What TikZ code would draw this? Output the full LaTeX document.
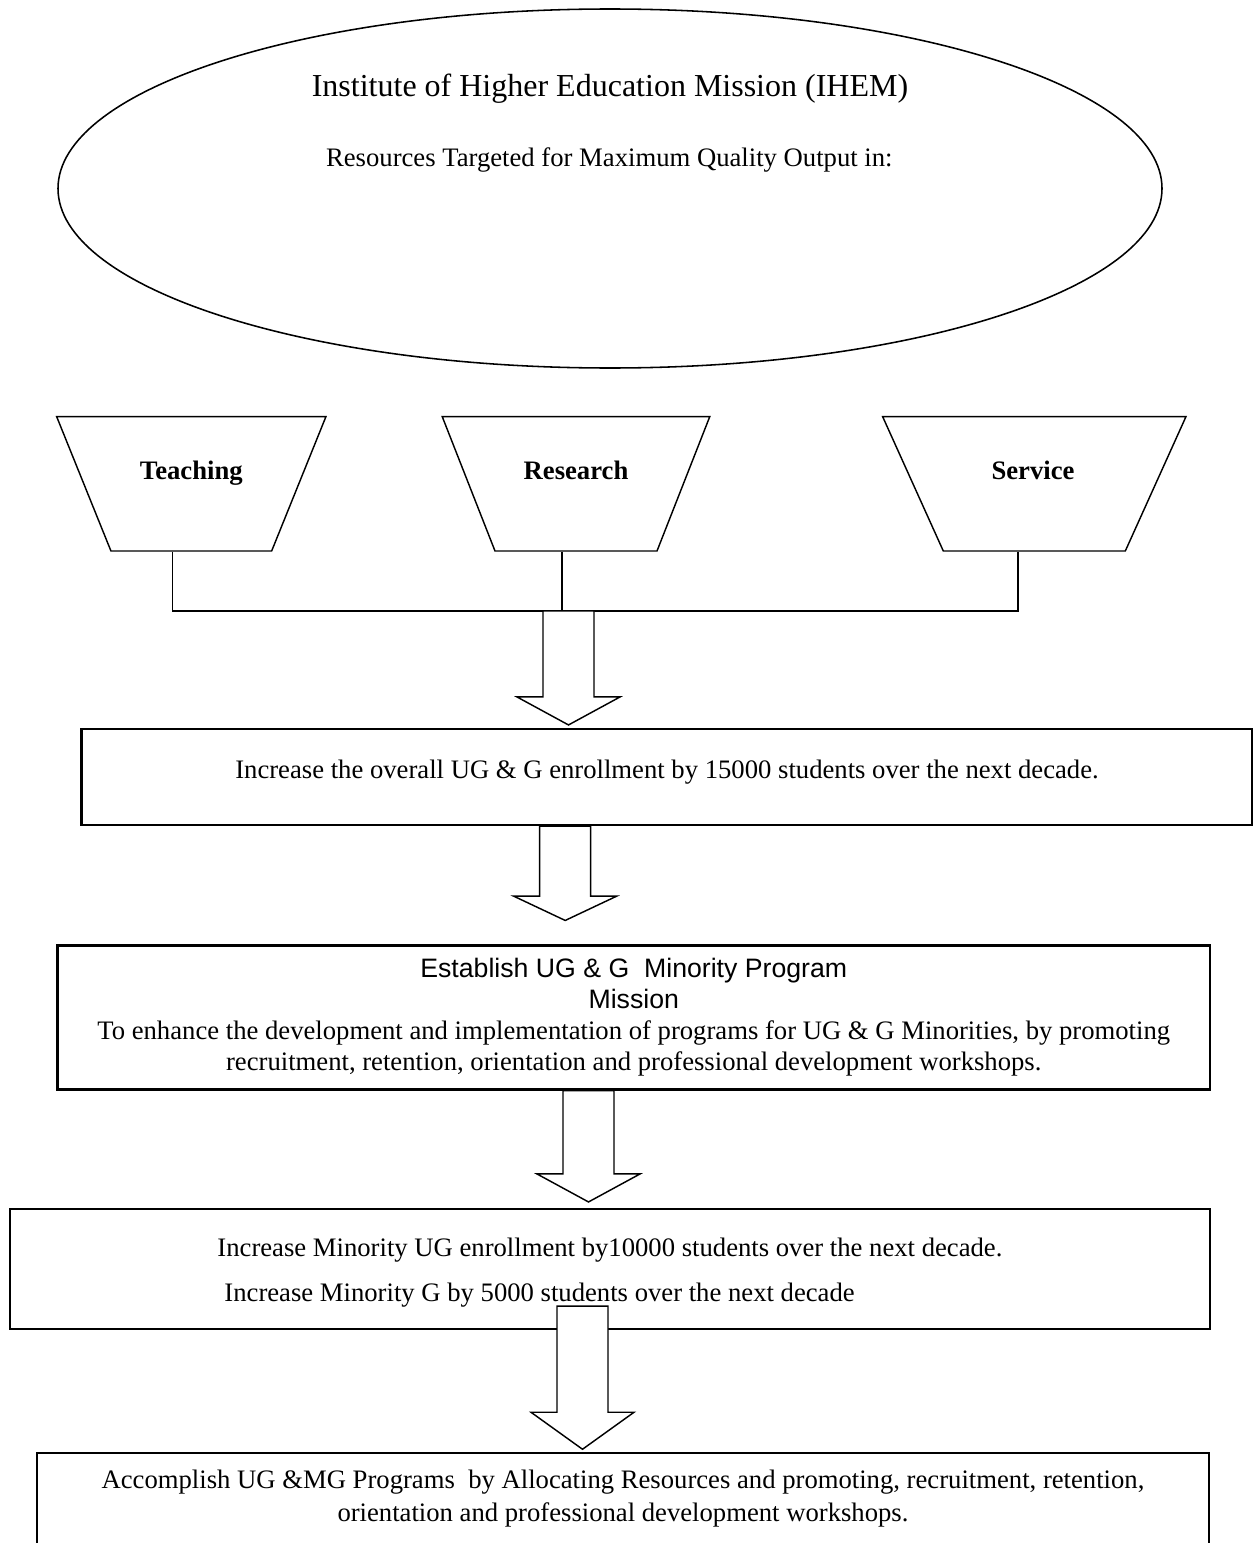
\documentclass[tikz,border=0pt]{standalone}
\usepackage{fontspec}
\setmainfont{Liberation Serif}
\newfontfamily\arialfont{Liberation Sans}
\usetikzlibrary{shapes.geometric,calc}
\newcommand{\pxu}{0.45pt}
% block arrow: top point, tip point, head length
\newcommand{\hollowarrow}[3]{%
  \draw[hollow] let \p1=#1, \p2=#2 in
    (\x1-25.5*\pxu,\y1) -- (\x1-25.5*\pxu,\y2+#3*\pxu) -- (\x1-51.5*\pxu,\y2+#3*\pxu)
    -- (\x1,\y2) -- (\x1+51.5*\pxu,\y2+#3*\pxu) -- (\x1+25.5*\pxu,\y2+#3*\pxu)
    -- (\x1+25.5*\pxu,\y1) -- cycle;}

\begin{document}
\begin{tikzpicture}[x=0.45pt,y=-0.45pt,line join=miter]
    \tikzstyle{mission}=[draw, ellipse, line width=0.7pt, minimum width=1104*\pxu, minimum height=359*\pxu, inner sep=0pt]
    \tikzstyle{funnel}=[draw, trapezium, shape border rotate=180, line width=0.65pt, inner ysep=67.15*\pxu]
    \tikzstyle{goal}=[draw, rectangle, line width=0.95pt, inner sep=0pt, align=center, font=\fontsize{12}{13.95}\selectfont]
    \tikzstyle{txt}=[inner sep=0pt, font=\fontsize{12}{13.95}\selectfont]
    \tikzstyle{head}=[inner sep=0pt, font=\fontsize{12}{13.95}\selectfont\bfseries]
    \tikzstyle{wire}=[line width=0.65pt]
    \tikzstyle{hollow}=[fill=white, line width=0.65pt]

    \useasboundingbox (0,0) rectangle (1253,1543);
    \clip (0,0) rectangle (1253,1543);

    \node[mission] (ihem) at (610,188.5) {};
    \node[txt, font=\fontsize{14.4}{17}\selectfont] (title) at (610,89) {Institute of Higher Education Mission (IHEM)};
    \node[txt] (subtitle) at (609.3,160) {Resources Targeted for Maximum Quality Output in:};

    \node[funnel, inner xsep=80.35*\pxu, trapezium angle=68] (teach) at (191.3,483.85) {};
    \node[funnel, inner xsep=81*\pxu, trapezium angle=68.56] (research) at (576,483.85) {};
    \node[funnel, inner xsep=91*\pxu, trapezium angle=65.7] (serv) at (1034.3,483.85) {};
    \node[head] (teachtxt) at (191.3,473) {Teaching};
    \node[head] (researchtxt) at (576,470.5) {Research};
    \node[head] (servtxt) at (1033,470.5) {Service};

    \coordinate (bus) at (562,611);
    \draw[wire] ([xshift=-19*\pxu]teach.south) |- (bus) -| ([xshift=-16.3*\pxu]serv.south);
    \draw[wire] ([xshift=-14*\pxu]research.south) -- (bus);

    \node[goal, minimum width=1170.8*\pxu, minimum height=96*\pxu] (enrol) at (666.9,777) {};
    \node[txt] (enroltxt) at (667,772) {Increase the overall UG \& G enrollment by 15000 students over the next decade.};

    \node[goal, minimum width=1152.5*\pxu, minimum height=144*\pxu] (minprog) at (633.75,1017.5)
      {{\arialfont Establish UG \& G\ \ Minority Program}\\{\arialfont Mission}\\
       To enhance the development and implementation of programs for UG \& G Minorities, by promoting\\
       recruitment, retention, orientation and professional development workshops.};

    \node[goal, minimum width=1200.4*\pxu, minimum height=120*\pxu] (minenrol) at (609.8,1269) {};
    \node[txt, anchor=west] (ugline) at (217,1250) {Increase Minority UG enrollment by10000 students over the next decade.};
    \node[txt, anchor=west] (gline) at (224,1295) {Increase Minority G by 5000 students over the next decade};

    \node[goal, minimum width=1171.4*\pxu, minimum height=90.4*\pxu, font=\fontsize{12}{14.85}\selectfont] (accomp) at (623,1498.5)
      {Accomplish UG \&MG Programs\ \ by Allocating Resources and promoting, recruitment, retention,\\
       orientation and professional development workshops.};

    \hollowarrow{([xshift=6.5*\pxu]bus)}{([yshift=3*\pxu]enrol.north)}{28}
    \hollowarrow{([xshift=-101.7*\pxu]enrol.south)}{([yshift=24*\pxu]minprog.north)}{24.3}
    \hollowarrow{([xshift=-45.25*\pxu]minprog.south)}{([yshift=6*\pxu]minenrol.north)}{28}
    \hollowarrow{([xshift=-27.3*\pxu,yshift=24*\pxu]minenrol.south)}{([yshift=3*\pxu]accomp.north)}{37}
\end{tikzpicture}
\end{document}
